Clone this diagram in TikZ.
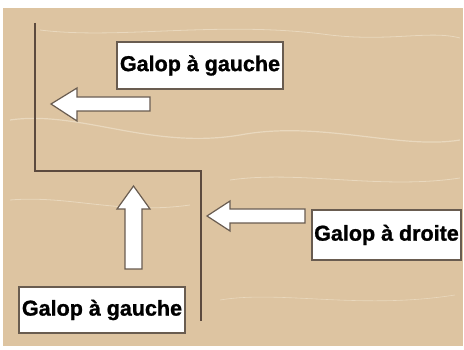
\documentclass[tikz,border=0pt]{standalone}
\usepackage{fontspec}
\setmainfont{Liberation Sans}
\newfontfamily\heavy[FakeBold=1.2]{Liberation Sans Bold}
\usepackage{xcolor}
\usetikzlibrary{shapes}
\definecolor{leather}{RGB}{221, 196, 161}
\definecolor{crease}{RGB}{233, 216, 190}
\definecolor{wall}{RGB}{92, 74, 62}
\definecolor{rim}{RGB}{105, 92, 80}

\begin{document}
\begin{tikzpicture}[x=1pt, y=-1pt,
    label box/.style={draw=rim, line width=1.6pt, fill=white, inner sep=0pt,
        font=\fontsize{21.5}{25}\selectfont\heavy, text=black},
    fleche/.style={draw=rim, line width=1.2pt, fill=white, line join=miter}]
    \useasboundingbox (0,0) rectangle (464,350);
    % Leather background
    \fill[white] (0,0) rectangle (464,350);
    \fill[leather] (3,8) rectangle (463,346);
    \draw[crease, line width=1.2pt] (10,120) .. controls (80,110) and (150,150) .. (240,135) .. controls (320,120) and (400,150) .. (460,140);
    \draw[crease, line width=0.8pt] (10,200) .. controls (70,195) and (120,215) .. (190,205);
    \draw[crease, line width=0.8pt] (230,180) .. controls (300,170) and (380,190) .. (460,178);
    \draw[crease, line width=0.8pt] (40,30) .. controls (120,40) and (220,20) .. (330,35) .. controls (390,42) and (430,30) .. (460,38);
    \draw[crease, line width=0.6pt] (220,300) .. controls (280,290) and (360,310) .. (455,295);

    % Arena walls
    \draw[wall, line width=1.5pt] (35,23) -- (35,171) -- (201,171) -- (201,321);

    % Arrows
    \draw[fleche] (150,97) -- (150,111) -- (77,111) -- (77,121) -- (51,104) -- (77,88) -- (77,97) -- cycle;
    \draw[fleche] (305,209) -- (305,223) -- (230,223) -- (230,231) -- (207,216) -- (230,201) -- (230,209) -- cycle;
    \draw[fleche] (125,269) -- (142,269) -- (142,209) -- (150,209) -- (133.5,186) -- (117,209) -- (125,209) -- cycle;

    % Labels
    \node[label box, minimum width=166pt, minimum height=47pt] (gaucheHaut) at (200,65.5) {Galop à gauche};
    \node[label box, minimum width=149pt, minimum height=50pt] (droite) at (386.5,235) {Galop à droite};
    \node[label box, minimum width=166pt, minimum height=46pt] (gaucheBas) at (102,310) {Galop à gauche};
\end{tikzpicture}
\end{document}
